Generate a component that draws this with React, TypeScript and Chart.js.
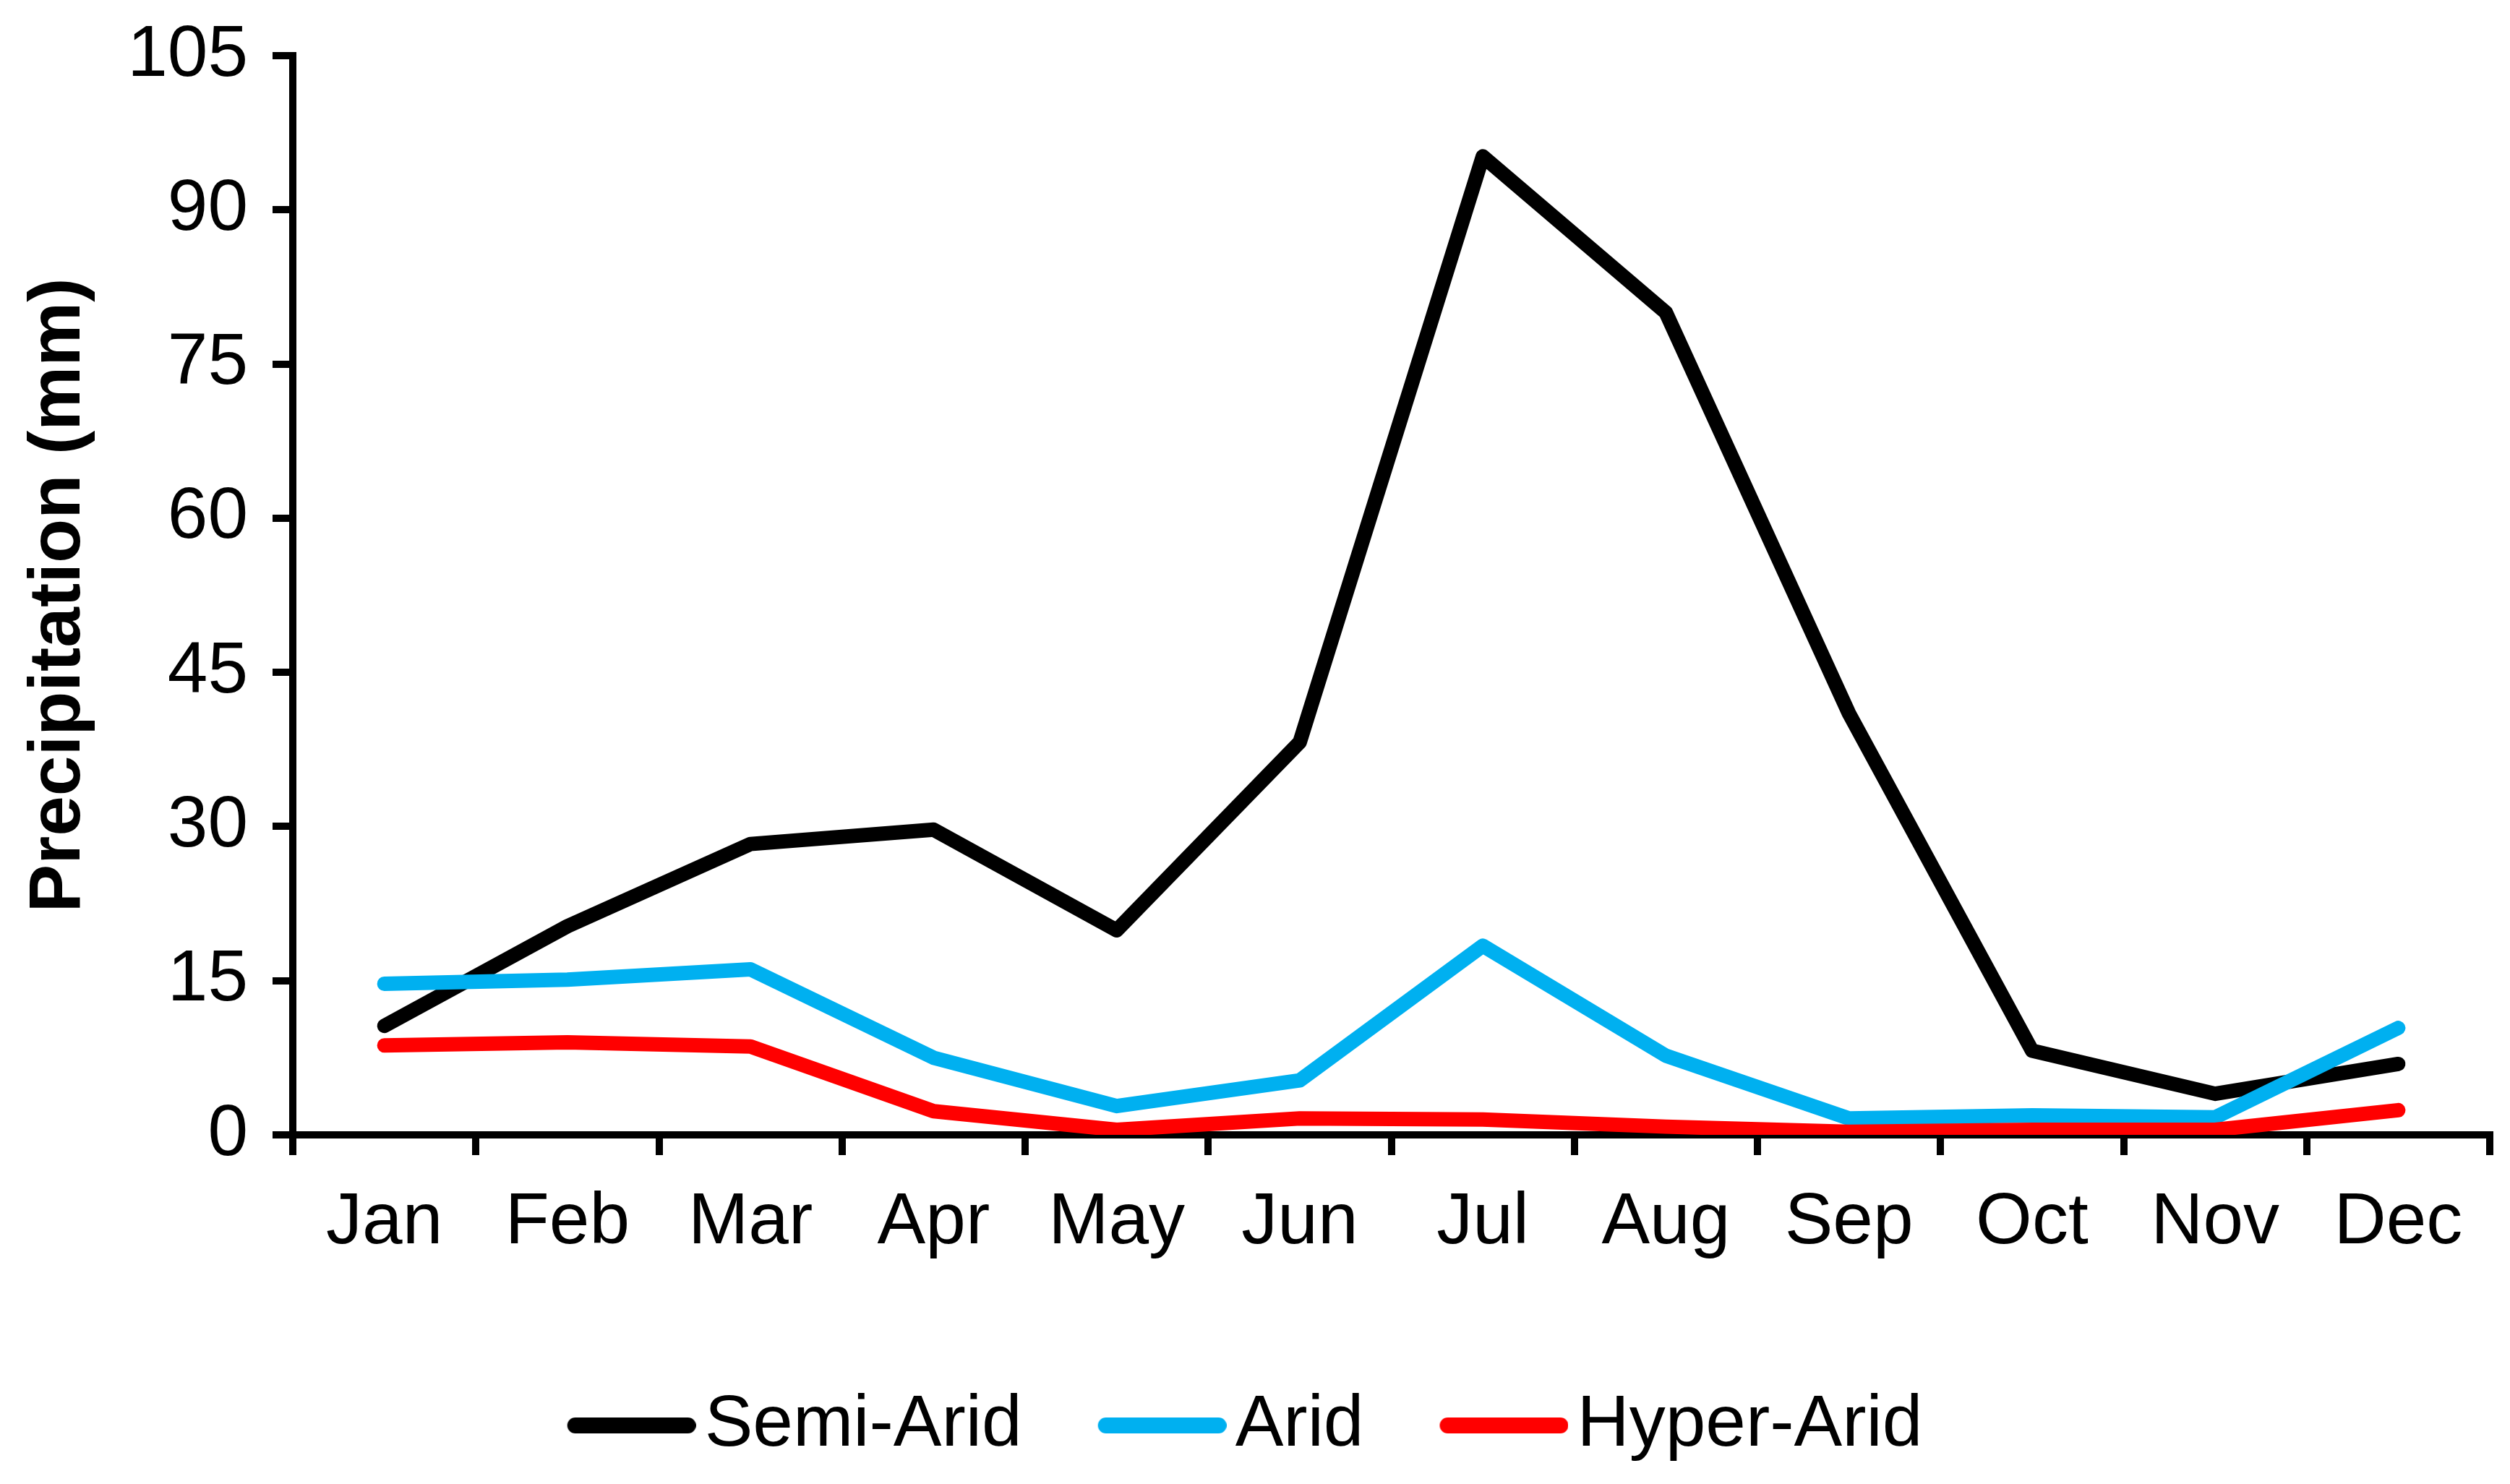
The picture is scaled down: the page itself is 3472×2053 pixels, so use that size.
import React, { useEffect, useRef } from 'react';
import { Chart, registerables } from 'chart.js';

Chart.register(...registerables);

// ---- Data ----
const months = ['Jan', 'Feb', 'Mar', 'Apr', 'May', 'Jun', 'Jul', 'Aug', 'Sep', 'Oct', 'Nov', 'Dec'];
const semiArid = [10.6, 20.3, 28.3, 29.7, 19.9, 38.2, 95.2, 80.0, 41.0, 8.2, 4.0, 6.9];
const arid = [14.7, 15.1, 16.1, 7.5, 2.8, 5.3, 18.4, 7.7, 1.6, 1.9, 1.7, 10.4];
const hyperArid = [8.7, 9.0, 8.6, 2.3, 0.5, 1.6, 1.5, 0.8, 0.3, 0.5, 0.5, 2.4];
const seriesNames = ['Semi-Arid', 'Arid', 'Hyper-Arid'];
const seriesColors = ['#000000', '#00B0F0', '#FF0000'];
const yMin = 0;
const yMax = 105;
const yStep = 15;
const yTitle = 'Precipitation (mm)';

// ---- Layout / style ----
const W = 3472;
const H = 2053;
const FONT = "'Liberation Sans', Arial, sans-serif";

function makeLegendLine(color: string): HTMLCanvasElement {
  const c = document.createElement('canvas');
  c.width = 216;
  c.height = 30;
  const ctx = c.getContext('2d')!;
  ctx.strokeStyle = color;
  ctx.lineWidth = 22;
  ctx.lineCap = 'round';
  ctx.beginPath();
  ctx.moveTo(49, 15);
  ctx.lineTo(205, 15);
  ctx.stroke();
  return c;
}

export default function App() {
  const ref = useRef<HTMLCanvasElement | null>(null);

  useEffect(() => {
    document.body.style.margin = '0';
    const canvas = ref.current;
    if (!canvas) return;
    const seriesValues = [semiArid, arid, hyperArid];
    const legendImages = seriesColors.map((c) => makeLegendLine(c));

    const chart = new Chart(canvas, {
      type: 'line',
      data: {
        labels: months,
        datasets: seriesValues.map((vals, i) => ({
          label: seriesNames[i],
          data: vals,
          borderColor: seriesColors[i],
          backgroundColor: seriesColors[i],
          borderWidth: 20,
          pointRadius: 0,
          pointHoverRadius: 0,
          tension: 0,
          fill: false,
          borderJoinStyle: 'round' as const,
          borderCapStyle: 'round' as const,
          order: 3 - i,
        })),
      },
      options: {
        responsive: false,
        animation: false,
        devicePixelRatio: 1,
        layout: { padding: { left: 0, right: 28, top: 77, bottom: 21 } },
        plugins: {
          tooltip: { enabled: false },
          legend: {
            position: 'bottom',
            labels: {
              usePointStyle: true,
              pointStyleWidth: 140,
              padding: 105,
              color: '#000',
              font: { size: 100, family: FONT },
              generateLabels: (ch: any) =>
                ch.data.datasets.map((ds: any, i: number) => ({
                  text: ds.label,
                  fillStyle: ds.borderColor,
                  strokeStyle: ds.borderColor,
                  lineWidth: 0,
                  pointStyle: legendImages[i],
                  hidden: false,
                  datasetIndex: i,
                  fontColor: '#000',
                })),
            },
          },
        },
        scales: {
          x: {
            type: 'category',
            offset: true,
            grid: {
              offset: true,
              drawOnChartArea: false,
              drawTicks: true,
              tickLength: 28,
              color: '#000',
              lineWidth: 10,
            },
            border: { display: true, color: '#000', width: 10 },
            ticks: {
              color: '#000',
              font: { size: 100, family: FONT },
              padding: 34,
              maxRotation: 0,
              autoSkip: false,
            },
            afterFit: (s: any) => {
              s.height = 247;
            },
          },
          y: {
            min: yMin,
            max: yMax,
            grid: {
              drawOnChartArea: false,
              drawTicks: true,
              tickLength: 28,
              color: '#000',
              lineWidth: 10,
            },
            border: { display: true, color: '#000', width: 10 },
            ticks: {
              stepSize: yStep,
              color: '#000',
              font: { size: 100, family: FONT },
              padding: 34,
            },
            title: {
              display: true,
              text: yTitle,
              color: '#000',
              font: { size: 100, weight: 'bold', family: FONT },
              padding: { top: 22, bottom: 0 },
            },
            afterFit: (s: any) => {
              s.width = 405;
              s.paddingTop = 0;
              s.paddingBottom = 0;
            },
          },
        },
      },
    });
    return () => chart.destroy();
  }, []);

  return (
    <div style={{ width: W, height: H, background: '#fff' }}>
      <canvas ref={ref} width={W} height={H} style={{ display: 'block', width: W, height: H }} />
    </div>
  );
}
